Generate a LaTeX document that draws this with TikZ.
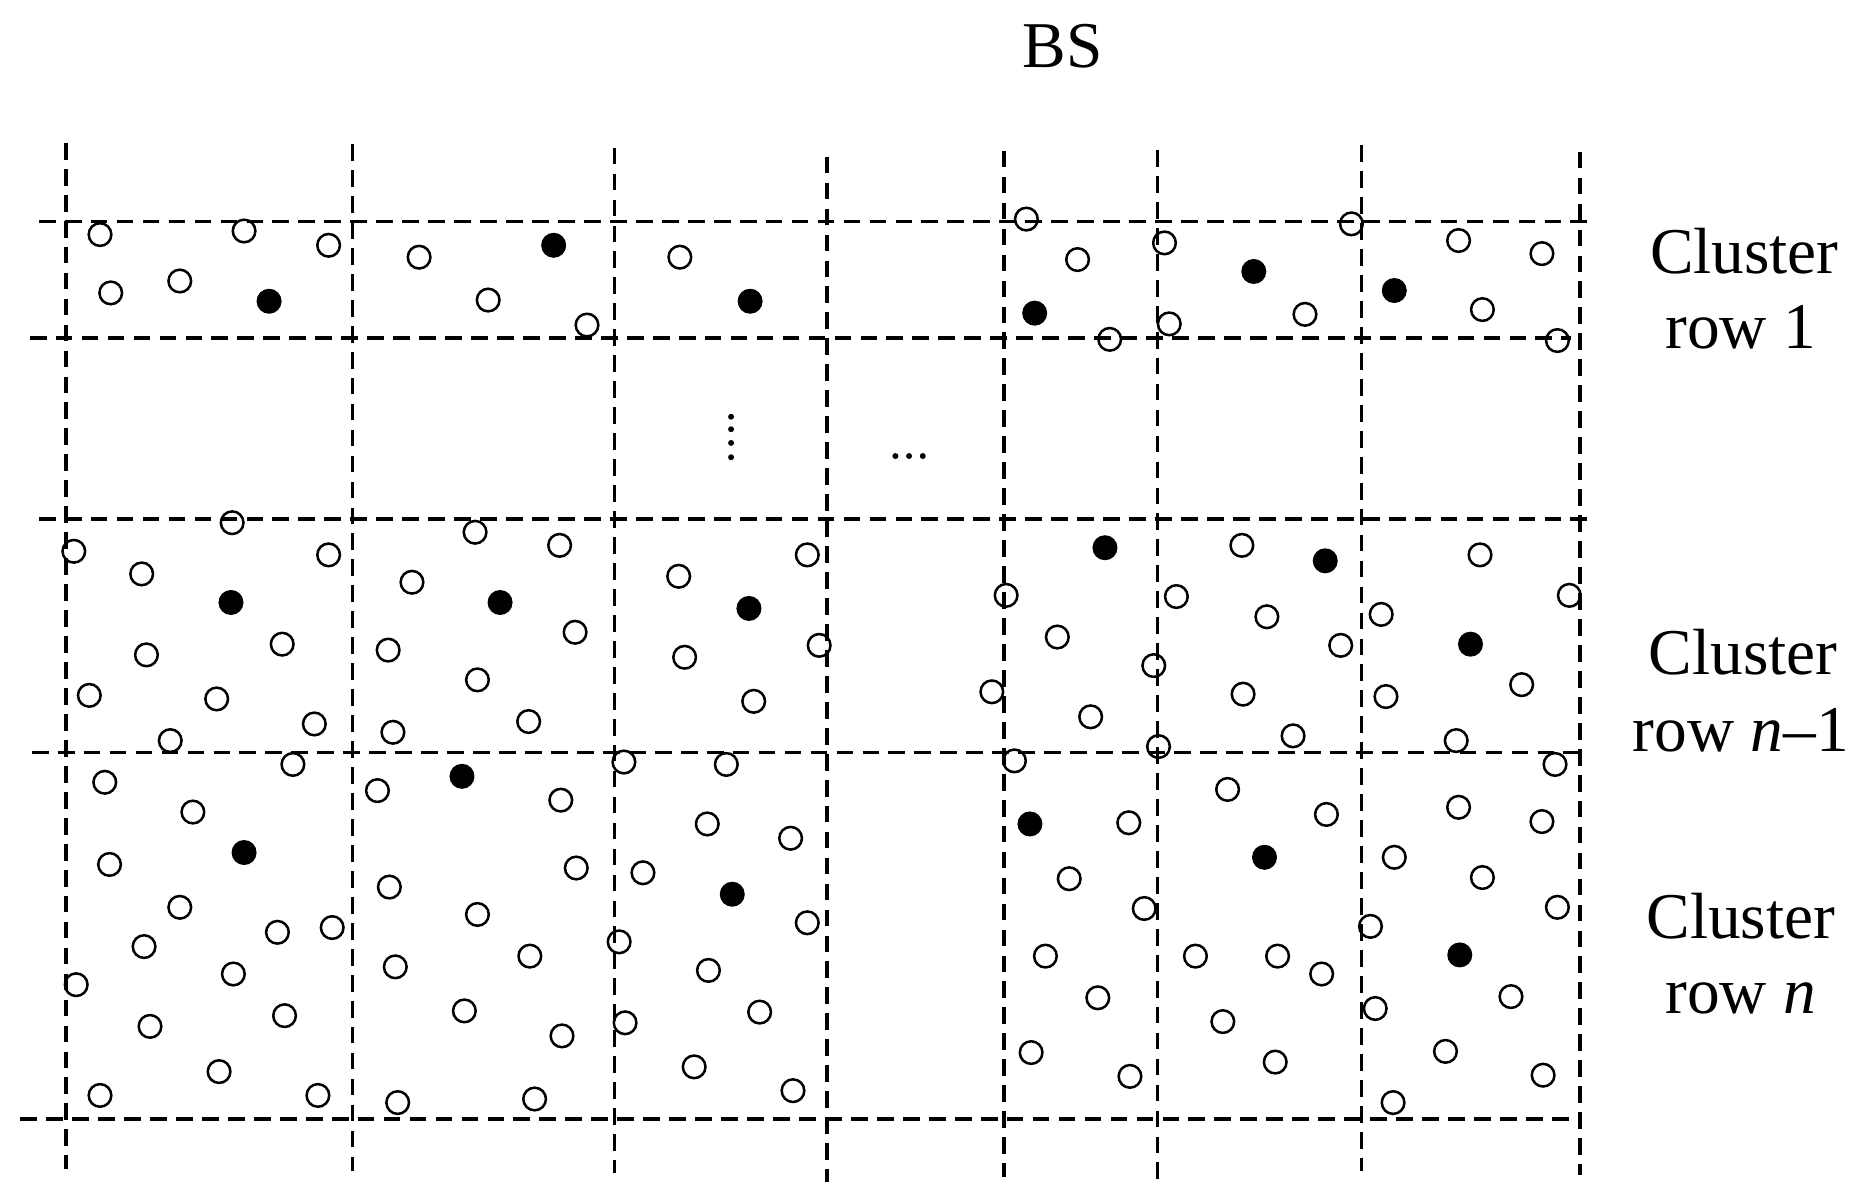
\documentclass[tikz,border=0pt]{standalone}
\usepackage{fontspec}
\setmainfont{Liberation Serif}
\begin{document}
\begin{tikzpicture}[x=0.01cm,y=-0.01cm,
  gridline/.style={line width=0.8pt, dash pattern=on 4pt off 2.2pt},
  gridthick/.style={line width=1.05pt, dash pattern=on 4pt off 2.2pt},
  sensor/.style={line width=0.6pt},
  head/.style={fill=black},
  lbl/.style={font=\fontsize{15.6}{18}\selectfont, inner sep=0pt, anchor=base}]
\useasboundingbox (0,0) rectangle (1568,1000);
% horizontal dashed lines
\draw[gridline] (32.6,186) -- (1334.5,186);
\draw[gridline] (25,284) -- (1319,284);
\draw[gridline] (32.6,436) -- (1334.5,436);
\draw[gridline] (26.7,632) -- (1329.5,632);
\draw[gridline] (17,939.7) -- (1320,939.7);
% vertical dashed lines
\draw[gridline] (55.5,120) -- (55.5,982);
\draw[gridline] (296,121) -- (296,983.5);
\draw[gridline] (516,124) -- (516,985);
\draw[gridthick] (694.5,131.6) -- (694.5,993);
\draw[gridthick] (843,126.6) -- (843,988.5);
\draw[gridline] (972,126) -- (972,993);
\draw[gridline] (1143.6,122) -- (1143.6,983.5);
\draw[gridline] (1327,127.4) -- (1327,987);
% ordinary nodes (open circles)
\foreach \p/\q in {84/197, 205/194, 276/206, 93/246, 151/236, 352/216, 410/252, 493/273, 571/216, 862/184, 905/218, 932/285, 978/204, 982/272, 1096/264, 1135/188, 1225/202, 1295/213, 1245/260, 1308/286,
195/439, 62/463, 119/482, 276/466, 237/541, 123/550, 75/584, 182/587, 264/608, 143/622,
399/447, 470/458, 346/489, 483/531, 326/546, 401/571, 330/615, 444/606,
678/466, 570/484, 688/542, 575/552, 633/589,
845/500, 888/535, 969/559, 833/581, 916/602, 973/627,
988/501, 1043/458, 1064/518, 1126/542, 1044/583, 1086/618,
1243/466, 1318/500, 1160/516, 1278/575, 1164/585, 1223/622,
88/657, 246/642, 162/682, 92/726, 151/762, 233/783, 279/779, 121/795, 196/818, 64/827, 239/853, 126/862, 184/900, 84/920, 267/920,
317/664, 471/672, 484/729, 327/745, 401/768, 445/803, 332/812, 390/849, 472/870, 334/926, 449/923,
524/640, 610/642, 594/692, 664/704, 540/733, 678/775, 520/791, 595/815, 638/850, 525/859, 583/896, 666/916,
852/639, 948/691, 898/738, 961/763, 878/803, 922/838, 866/884, 949/904,
1031/663, 1004/803, 1027/858, 1114/684, 1073/803, 1110/818, 1071/892,
1306/642, 1225/678, 1295/690, 1171/720, 1245/737, 1308/762, 1151/778, 1269/837, 1155/847, 1214/883, 1296/903, 1170/926}
  \draw[sensor] (\p,\q) circle[radius=0.095cm];
% cluster heads (filled circles)
\foreach \p/\q in {226/253, 465/206, 630/253, 869/263, 1053/228, 1171/244,
194/506, 420/506, 629/511, 928/460, 1113/471, 1235/541,
205/716, 388/652, 615/751, 865/692, 1062/720, 1226/802}
  \fill[head] (\p,\q) circle[radius=0.105cm];
% ellipsis dots
\foreach \q in {350,360.5,372,384}
  \fill (614,\q) circle[radius=0.025cm];
\foreach \p in {752,763.5,775}
  \fill (\p,383) circle[radius=0.025cm];
% labels
\node[lbl] (bs) at (892.5,57) {BS};
\node[lbl] (c1a) at (1465,229.6) {Cluster};
\node[lbl] (c1b) at (1462,292.6) {row 1};
\node[lbl] (c2a) at (1464,566.8) {Cluster};
\node[lbl] (c2b) at (1462,630.8) {row \textit{n}–1};
\node[lbl] (c3a) at (1462,788) {Cluster};
\node[lbl] (c3b) at (1462,851) {row \textit{n}};
\end{tikzpicture}
\end{document}
